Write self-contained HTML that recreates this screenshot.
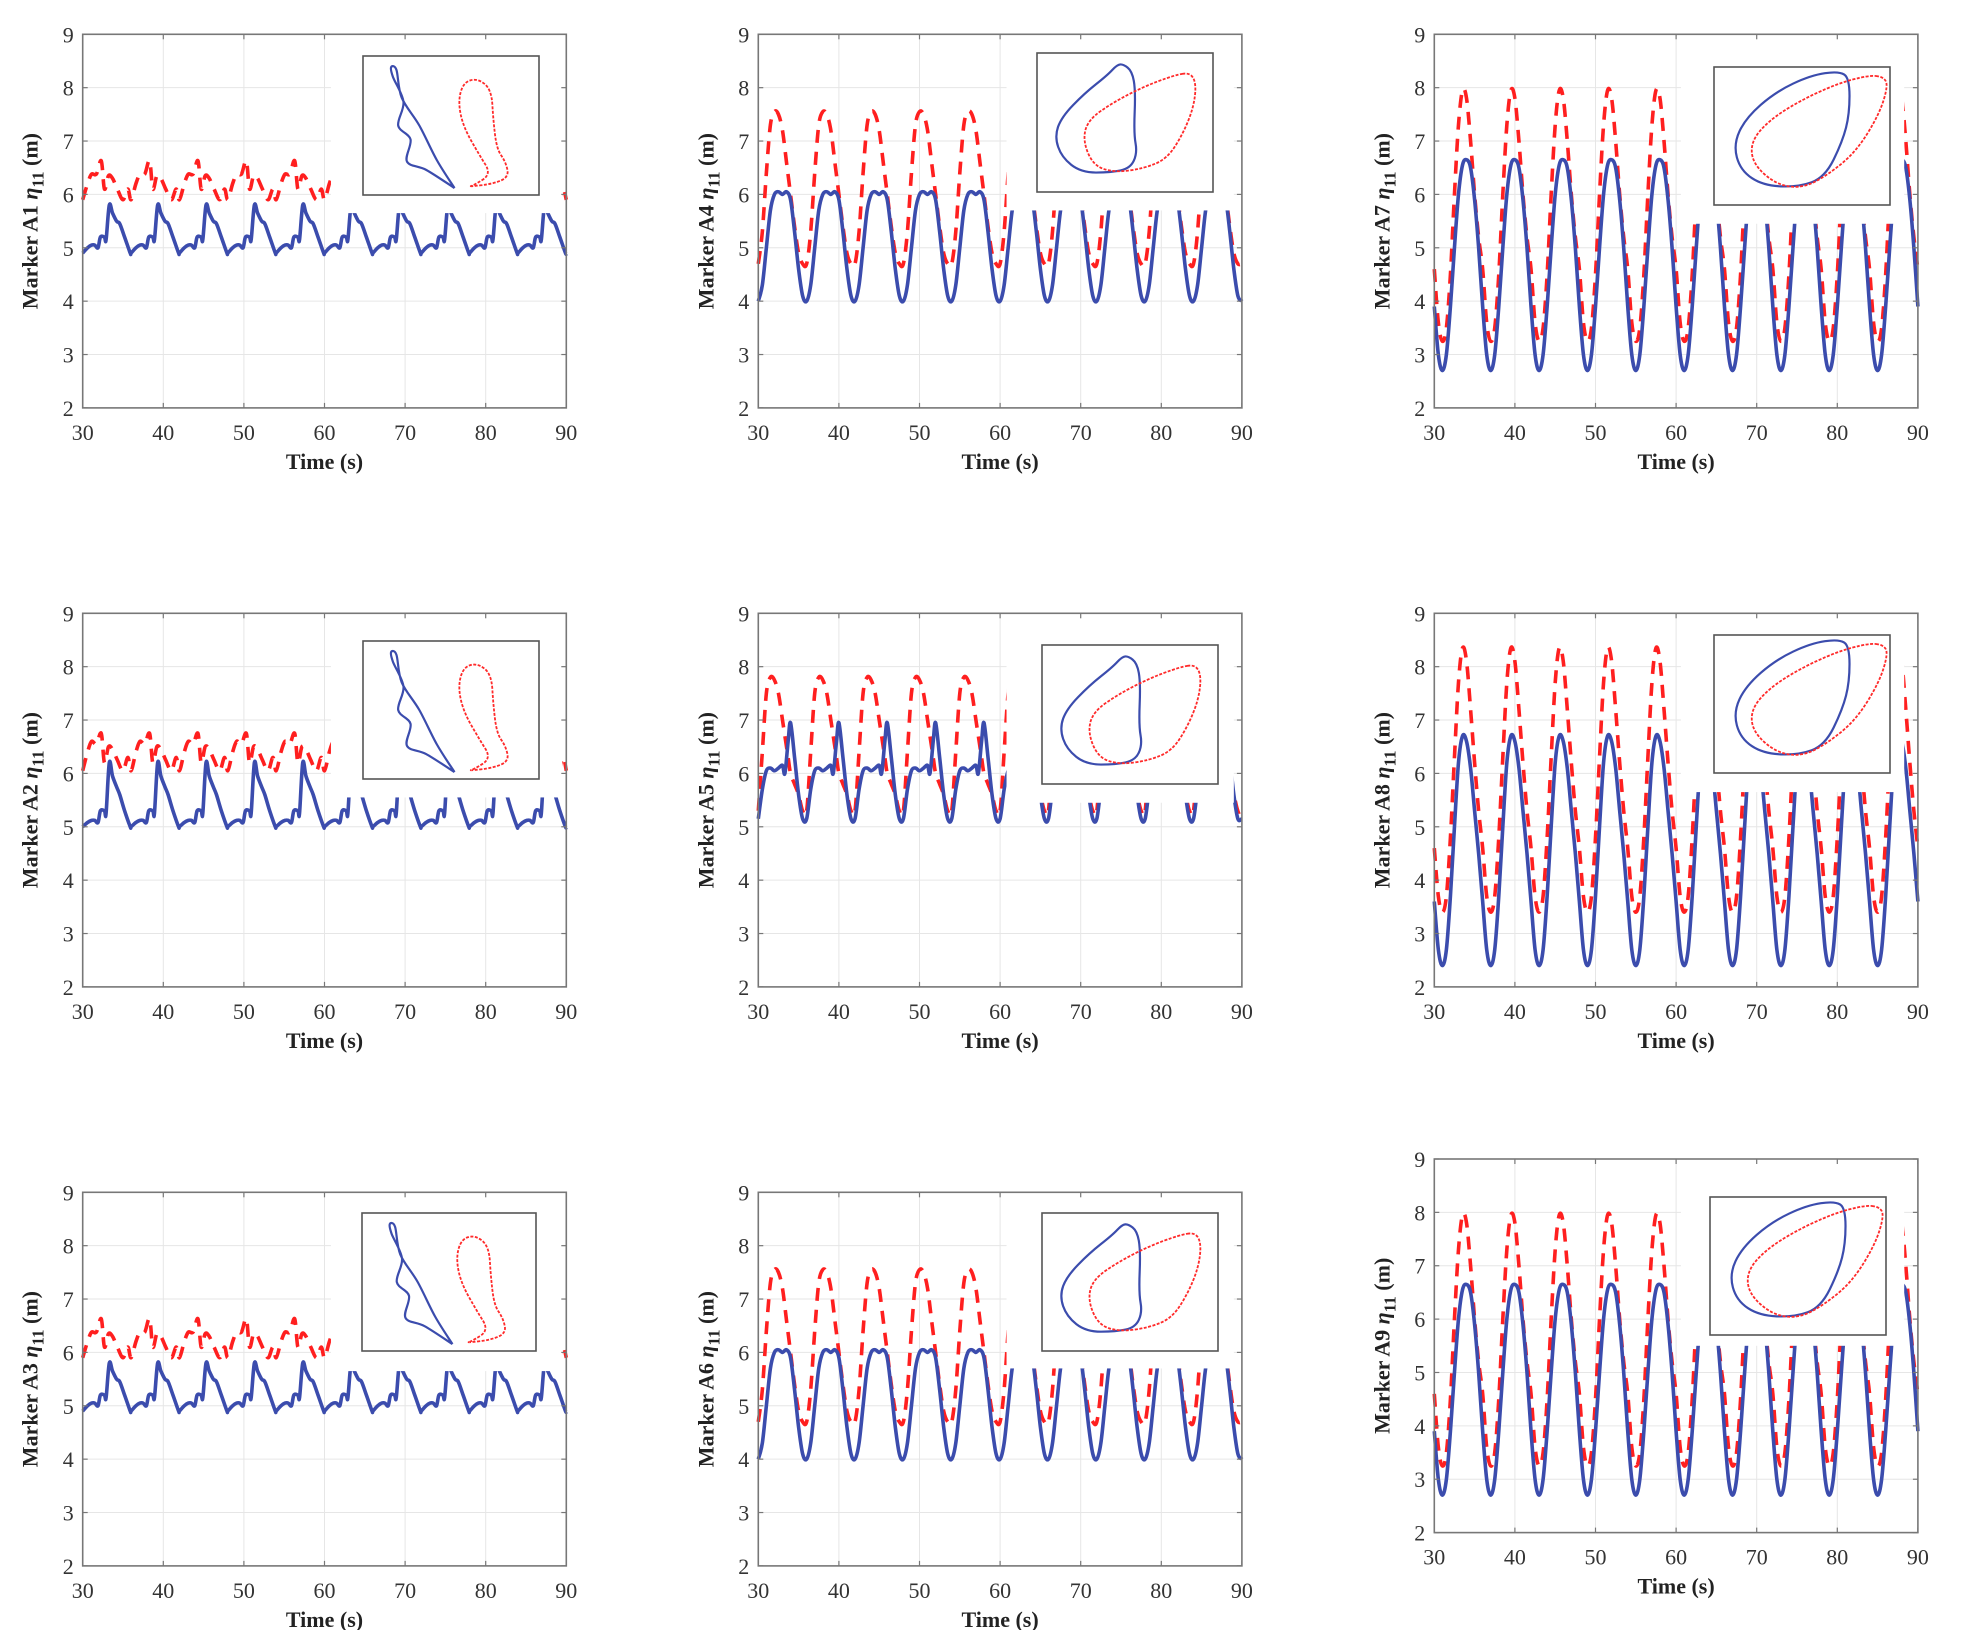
<!DOCTYPE html>
<html><head><meta charset="utf-8">
<style>
html,body{margin:0;padding:0;background:#fff;}
svg{display:block;}
text{font-family:"Liberation Serif","DejaVu Serif",serif;}
</style></head>
<body>
<svg id="fig" width="1983" height="1630" viewBox="0 0 1983 1630" xmlns="http://www.w3.org/2000/svg"></svg>
<script>
// ---- data (one 6 s wave cycle per panel; repeated every 6 s) ----
const xTicks = [30,40,50,60,70,80,90];
const yTicks = [2,3,4,5,6,7,8,9];
const period = 6;
const cycles = 10;
// A1
const a1Phase = [0,0.6,1.1,1.5,1.9,2.2,2.7,2.9,3.3,3.7,4.2,4.6,5.2,5.9,6];
const a1Blue  = [4.9,5.0,5.05,5.05,5.0,5.2,5.2,5.15,5.8,5.65,5.5,5.45,5.2,4.9,4.9];
const a1RedPhase = [0,0.6,1.1,1.7,2.3,2.7,3.2,3.7,4.3,5.0,5.6,6];
const a1Red   = [5.9,6.2,6.38,6.38,6.63,6.1,6.35,6.3,6.1,5.9,6.1,5.9];
// A2
const a2Blue  = [5.0,5.08,5.12,5.12,5.08,5.3,5.3,5.25,6.2,5.95,5.75,5.6,5.3,5.0,5.0];
const a2Red   = [6.05,6.4,6.6,6.55,6.75,6.2,6.5,6.45,6.25,6.05,6.3,6.05];
// A3
const a3Blue  = [4.9,5.0,5.05,5.05,5.0,5.2,5.2,5.15,5.8,5.65,5.5,5.45,5.2,4.9,4.9];
const a3Red   = [5.9,6.2,6.38,6.38,6.63,6.1,6.35,6.3,6.1,5.9,6.1,5.9];
// A4 / A6
const a4Phase = [0,0.5,1,1.5,2,2.5,3,3.5,4,4.5,5,5.5,6];
const a4Blue  = [4.0,4.3,5.0,5.7,6.0,6.05,6.0,6.05,5.9,5.3,4.6,4.1,4.0];
const a4Red   = [4.7,5.3,6.4,7.3,7.55,7.5,7.2,6.6,6.0,5.4,4.9,4.7,4.7];
const a6Blue  = [4.0,4.3,5.0,5.7,6.0,6.05,6.0,6.05,5.9,5.3,4.6,4.1,4.0];
const a6Red   = [4.7,5.3,6.4,7.3,7.55,7.5,7.2,6.6,6.0,5.4,4.9,4.7,4.7];
// A5
const a5Phase = [0,0.5,1,1.5,2,2.5,3,3.3,3.7,4,4.5,5,5.5,6];
const a5Blue  = [5.15,5.7,6.05,6.1,6.05,6.1,6.15,6.0,6.6,6.95,6.3,5.6,5.15,5.15];
const a5Red   = [5.3,6.4,7.5,7.8,7.75,7.5,7.0,6.7,6.3,6.0,5.8,5.6,5.3,5.3];
// A7 / A8 / A9
const a7Phase = [0,0.5,1,1.5,2,2.5,3,3.5,4,4.5,5,5.5,6];
const a7Blue  = [3.9,3.0,2.7,3.0,3.9,5.0,6.0,6.55,6.65,6.5,5.9,5.0,3.9];
const a7Red   = [4.6,3.6,3.25,3.5,4.5,6.0,7.3,7.95,7.8,7.0,6.0,5.2,4.6];
const a8Blue  = [3.6,2.7,2.4,2.7,3.7,5.0,6.2,6.7,6.6,6.1,5.3,4.5,3.6];
const a8Red   = [4.6,3.7,3.4,3.7,4.8,6.3,7.7,8.35,8.1,7.2,6.2,5.3,4.6];
const a9Blue  = [3.9,3.0,2.7,3.0,3.9,5.0,6.0,6.55,6.65,6.5,5.9,5.0,3.9];
const a9Red   = [4.6,3.6,3.25,3.5,4.5,6.0,7.3,7.95,7.8,7.0,6.0,5.2,4.6];
// clipped region after t≈61 (value ceiling) per panel
const clipLevels = {A1:5.65,A2:5.55,A3:5.65,A4:5.7,A5:5.45,A6:5.7,A7:5.45,A8:5.65,A9:5.5};
// inset phase portraits (normalized coordinates inside the inset box)
const insetOpenBlue = [[0.52,0.95],[0.36,0.82],[0.25,0.76],[0.27,0.6],[0.2,0.5],[0.23,0.33],[0.17,0.15],[0.16,0.08],[0.19,0.1],[0.22,0.3],[0.32,0.5],[0.42,0.75],[0.52,0.95]];
const insetOpenRed  = [[0.6,0.94],[0.74,0.92],[0.83,0.87],[0.81,0.76],[0.76,0.67],[0.74,0.46],[0.73,0.24],[0.65,0.16],[0.57,0.19],[0.54,0.33],[0.57,0.51],[0.66,0.71],[0.73,0.85],[0.63,0.93]];
const insetLoopABlue = [[0.49,0.08],[0.54,0.13],[0.56,0.27],[0.55,0.58],[0.57,0.72],[0.53,0.83],[0.42,0.86],[0.25,0.86],[0.14,0.75],[0.1,0.6],[0.14,0.46],[0.27,0.29],[0.4,0.16],[0.455,0.085]];
const insetLoopARed  = [[0.87,0.14],[0.905,0.22],[0.89,0.39],[0.83,0.58],[0.74,0.76],[0.61,0.83],[0.44,0.86],[0.32,0.81],[0.26,0.63],[0.29,0.48],[0.44,0.35],[0.61,0.24],[0.78,0.16]];
const insetLoopBBlue = [[0.71,0.03],[0.77,0.08],[0.77,0.34],[0.73,0.54],[0.63,0.8],[0.48,0.87],[0.28,0.86],[0.15,0.75],[0.11,0.56],[0.18,0.37],[0.35,0.18],[0.55,0.06]];
const insetLoopBRed  = [[0.96,0.07],[0.99,0.13],[0.94,0.34],[0.81,0.61],[0.65,0.78],[0.5,0.88],[0.35,0.85],[0.22,0.7],[0.21,0.54],[0.31,0.39],[0.48,0.25],[0.7,0.12],[0.88,0.06]];

const panels = [
 {id:'A1',L:82.7,T:34.3,bp:a1Phase,bv:a1Blue,rp:a1RedPhase,rv:a1Red,ins:[363,56,176,139],ib:insetOpenBlue,ir:insetOpenRed,open:true,m0:60.8,m1:89.5},
 {id:'A4',L:758.3,T:34.3,bp:a4Phase,bv:a4Blue,rp:a4Phase,rv:a4Red,ins:[1037,53,176,139],ib:insetLoopABlue,ir:insetLoopARed,m0:60.8,m1:89.0},
 {id:'A7',L:1434.3,T:34.3,bp:a7Phase,bv:a7Blue,rp:a7Phase,rv:a7Red,ins:[1714,67,176,138],ib:insetLoopBBlue,ir:insetLoopBRed,m0:60.6,m1:88.3},
 {id:'A2',L:82.7,T:613.3,bp:a1Phase,bv:a2Blue,rp:a1RedPhase,rv:a2Red,ins:[363,641,176,138],ib:insetOpenBlue,ir:insetOpenRed,open:true,m0:60.8,m1:89.5},
 {id:'A5',L:758.3,T:613.3,bp:a5Phase,bv:a5Blue,rp:a5Phase,rv:a5Red,ins:[1042,645,176,139],ib:insetLoopABlue,ir:insetLoopARed,m0:60.8,m1:89.0},
 {id:'A8',L:1434.3,T:613.3,bp:a7Phase,bv:a8Blue,rp:a7Phase,rv:a8Red,ins:[1714,635,176,138],ib:insetLoopBBlue,ir:insetLoopBRed,m0:60.6,m1:88.3},
 {id:'A3',L:82.7,T:1192.3,bp:a1Phase,bv:a3Blue,rp:a1RedPhase,rv:a3Red,ins:[362,1213,174,138],ib:insetOpenBlue,ir:insetOpenRed,open:true,m0:60.8,m1:89.5},
 {id:'A6',L:758.3,T:1192.3,bp:a4Phase,bv:a6Blue,rp:a4Phase,rv:a6Red,ins:[1042,1213,176,138],ib:insetLoopABlue,ir:insetLoopARed,m0:60.8,m1:89.0},
 {id:'A9',L:1434.3,T:1159,bp:a7Phase,bv:a9Blue,rp:a7Phase,rv:a9Red,ins:[1710,1197,176,138],ib:insetLoopBBlue,ir:insetLoopBRed,m0:60.6,m1:88.3}
];
const W = 483.6, H = 373.6;
const NS = 'http://www.w3.org/2000/svg';
const svg = document.getElementById('fig');
function mk(tag, attrs, parent){
  const e = document.createElementNS(NS, tag);
  for (const k in attrs) e.setAttribute(k, attrs[k]);
  (parent||svg).appendChild(e);
  return e;
}
function smoothPath(pts, closed){
  if (!closed){
    let d = 'M'+pts[0][0]+','+pts[0][1];
    for (let i=1;i<pts.length;i++) d += 'L'+pts[i][0]+','+pts[i][1];
    return d;
  }
  const n = pts.length;
  const mid = (a,b)=>[(a[0]+b[0])/2,(a[1]+b[1])/2];
  let m0 = mid(pts[n-1],pts[0]);
  let d = 'M'+m0[0]+','+m0[1];
  for (let i=0;i<n;i++){
    const p = pts[i], m = mid(p, pts[(i+1)%n]);
    d += 'Q'+p[0]+','+p[1]+' '+m[0]+','+m[1];
  }
  return d+'Z';
}
function curveSmooth(pts){
  // catmull-rom through points (open)
  let d = 'M'+pts[0][0].toFixed(2)+','+pts[0][1].toFixed(2);
  for (let i=0;i<pts.length-1;i++){
    const p0=pts[Math.max(0,i-1)], p1=pts[i], p2=pts[i+1], p3=pts[Math.min(pts.length-1,i+2)];
    const c1=[p1[0]+(p2[0]-p0[0])/6, p1[1]+(p2[1]-p0[1])/6];
    const c2=[p2[0]-(p3[0]-p1[0])/6, p2[1]-(p3[1]-p1[1])/6];
    d += 'C'+c1[0].toFixed(2)+','+c1[1].toFixed(2)+' '+c2[0].toFixed(2)+','+c2[1].toFixed(2)+' '+p2[0].toFixed(2)+','+p2[1].toFixed(2);
  }
  return d;
}

panels.forEach(p=>{
  const g = mk('g',{});
  
  
  const xs = t => p.L + (t-30)/60*W;
  const ys = v => p.T + (9-v)/7*H;
  // grid
  xTicks.forEach(t=>{
    const l = mk('line',{x1:xs(t),x2:xs(t),y1:p.T,y2:p.T+H,stroke:'#e6e6e6','stroke-width':1},g);
    
    
  });
  yTicks.forEach(v=>{
    const l = mk('line',{x1:p.L,x2:p.L+W,y1:ys(v),y2:ys(v),stroke:'#e6e6e6','stroke-width':1},g);
    
    
  });
  // series points
  function series(phase, vals){
    const pts=[];
    for (let c=0;c<cycles;c++){
      for (let i=(c===0?0:1);i<phase.length;i++){
        const t = 30 + c*period + phase[i];
        if (t>90.001) break;
        pts.push([xs(t), ys(vals[i])]);
      }
    }
    return pts;
  }
  const red = mk('path',{d:curveSmooth(series(p.rp,p.rv)),fill:'none',stroke:'#ff1f1f','stroke-width':3.6,'stroke-dasharray':'13 9'},g);
  
  
  const blue = mk('path',{d:curveSmooth(series(p.bp,p.bv)),fill:'none',stroke:'#3b4cad','stroke-width':3.6,'stroke-linejoin':'round'},g);
  
  
  // mask region after 60 s
  const clip = clipLevels[p.id];
  const mask = mk('rect',{x:xs(p.m0),y:p.T+1,width:xs(p.m1)-xs(p.m0),height:ys(clip)-p.T-1,fill:'#fff'},g);
  
  
  // axes box
  const box = mk('rect',{x:p.L,y:p.T,width:W,height:H,fill:'none',stroke:'#777','stroke-width':1.6},g);
  
  
  // ticks + labels
  xTicks.forEach(t=>{
    mk('line',{x1:xs(t),x2:xs(t),y1:p.T+H,y2:p.T+H-5,stroke:'#777','stroke-width':1.2},g);
    mk('line',{x1:xs(t),x2:xs(t),y1:p.T,y2:p.T+5,stroke:'#777','stroke-width':1.2},g);
    const tx = mk('text',{x:xs(t),y:p.T+H+32,'font-size':22,fill:'#333','text-anchor':'middle'},g);
    tx.textContent = t;
    
    
  });
  yTicks.forEach(v=>{
    mk('line',{x1:p.L,x2:p.L+5,y1:ys(v),y2:ys(v),stroke:'#777','stroke-width':1.2},g);
    mk('line',{x1:p.L+W,x2:p.L+W-5,y1:ys(v),y2:ys(v),stroke:'#777','stroke-width':1.2},g);
    const ty = mk('text',{x:p.L-9,y:ys(v)+8,'font-size':22,fill:'#333','text-anchor':'end'},g);
    ty.textContent = v;
    
    
  });
  const xt = mk('text',{x:p.L+W/2,y:p.T+H+61,'font-size':22,'font-weight':'bold',fill:'#222','text-anchor':'middle'},g);
  xt.textContent = 'Time (s)';
  
  
  const cy = p.T+H/2;
  const yt = mk('text',{x:0,y:0,'font-size':22,'font-weight':'bold',fill:'#222','text-anchor':'middle',transform:'translate('+(p.L-45)+','+cy+') rotate(-90)'},g);
  
  
  const s1 = mk('tspan',{},yt); s1.textContent = 'Marker '+p.id+' ';
  const s2 = mk('tspan',{'font-style':'italic'},yt); s2.textContent = 'η';
  const s3 = mk('tspan',{dy:6,'font-size':17},yt); s3.textContent = '11';
  const s4 = mk('tspan',{dy:-6},yt); s4.textContent = ' (m)';
  // inset
  const [ix,iy,iw,ih] = p.ins;
  const ig = mk('g',{},g);
  
  
  mk('rect',{x:ix,y:iy,width:iw,height:ih,fill:'#fff',stroke:'#555','stroke-width':1.6},ig);
  const toPx = a => a.map(q=>[ix+q[0]*iw, iy+q[1]*ih]);
  const ib = mk('path',{d:p.open?curveSmooth(toPx(p.ib)):smoothPath(toPx(p.ib),true),fill:'none',stroke:'#3b4cad','stroke-width':2.2},ig);
  
  
  const ir = mk('path',{d:smoothPath(toPx(p.ir),true),fill:'none',stroke:'#ff2a2a','stroke-width':1.8,'stroke-dasharray':'3 1.5'},ig);
  
  
});
</script>
</body></html>
